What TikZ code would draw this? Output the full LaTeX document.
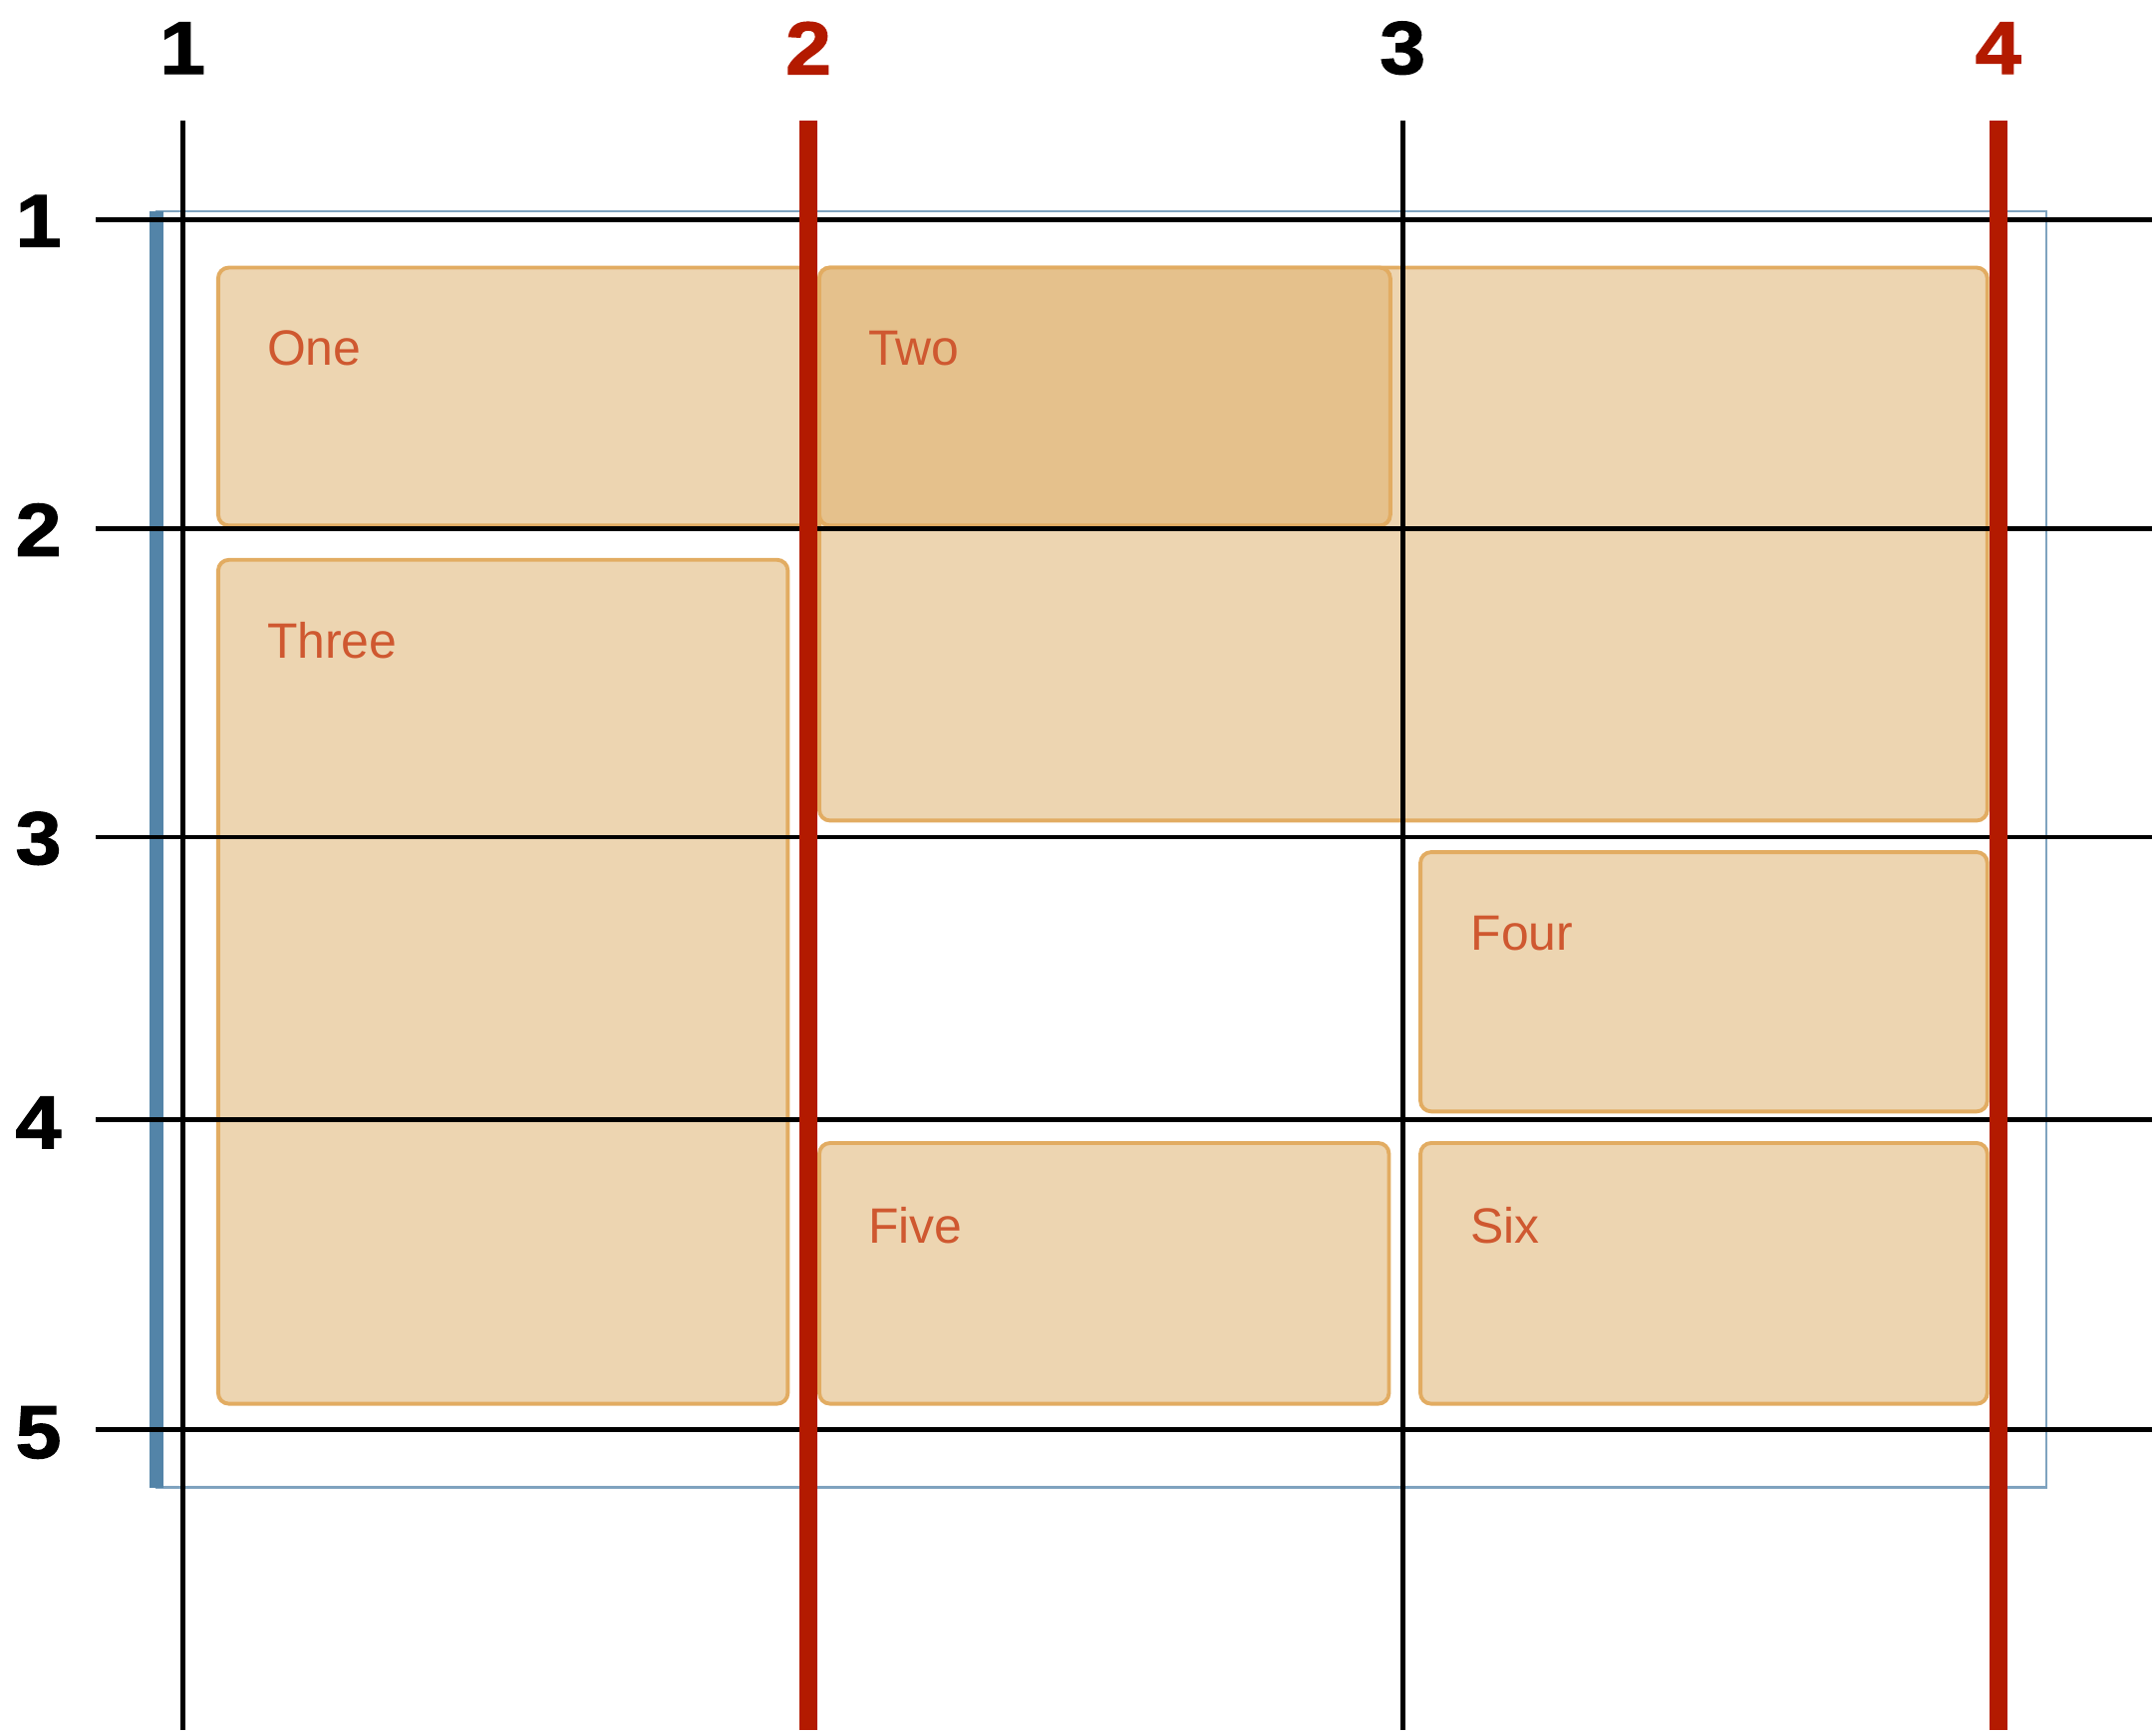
\documentclass[tikz,border=0pt]{standalone}
\usepackage{fontspec}
\setmainfont{Liberation Sans}
\newfontfamily\numfont[FakeStretch=1.1,FakeBold=1.6]{Liberation Sans Bold}
\definecolor{gridred}{HTML}{B31A00}
\definecolor{itemfill}{HTML}{EDD5B1}
\definecolor{itemedge}{HTML}{E2AC62}
\definecolor{twofill}{HTML}{E5C18C}
\definecolor{itemtext}{HTML}{CF5830}
\definecolor{boxblue}{HTML}{5384A8}
\definecolor{boxline}{HTML}{7FA3BF}
\begin{document}
\begin{tikzpicture}[x=0.01cm, y=-0.01cm,
        item/.style={fill=itemfill, draw=itemedge, line width=0.8pt, rounded corners=2.2pt},
        itemlabel/.style={anchor=west, inner sep=0pt, text=itemtext, font=\fontsize{10.3}{12}\selectfont},
        gridline/.style={color=black, line width=1pt},
        redline/.style={color=gridred, line width=3.6pt},
        linenum/.style={font=\fontsize{15.5}{18}\numfont}]
        \useasboundingbox (0,0) rectangle (1568,1265);
        % container
        \draw[color = boxline, line width=0.5pt] (114,154) rectangle (1491,1084);
        \draw[color = boxblue, line width=2.8pt] (114,154) -- (114,1084);
        % items
        \draw[item] (159,195) rectangle (592,383);
        \draw[item] (597,195) rectangle (1448,598);
        \draw[item, fill=twofill] (597,195) rectangle (1013,383);
        \draw[item] (159,408) rectangle (574,1023);
        \draw[item] (1035,621) rectangle (1448,810);
        \draw[item] (597,833) rectangle (1012,1023);
        \draw[item] (1035,833) rectangle (1448,1023);
        \node[itemlabel] (one) at (194,254) {One};
        \node[itemlabel] (two) at (632,254) {Two};
        \node[itemlabel] (three) at (194,467) {Three};
        \node[itemlabel] (four) at (1071,680) {Four};
        \node[itemlabel] (five) at (632,893) {Five};
        \node[itemlabel] (six) at (1071,893) {Six};
        % row lines
        \draw[gridline] (70,160) -- (1568,160);
        \draw[gridline] (70,385) -- (1568,385);
        \draw[gridline] (70,610) -- (1568,610);
        \draw[gridline] (70,816) -- (1568,816);
        \draw[gridline] (70,1042) -- (1568,1042);
        % column lines
        \draw[gridline] (133,88) -- (133,1261);
        \draw[redline] (589,88) -- (589,1261);
        \draw[gridline] (1022,88) -- (1022,1261);
        \draw[redline] (1456,88) -- (1456,1261);
        \node[linenum] (col1) at (133,35) {1};
        \node[linenum, text=gridred] (col2) at (589,35) {2};
        \node[linenum] (col3) at (1022,35) {3};
        \node[linenum, text=gridred] (col4) at (1456,35) {4};
        \node[linenum] (row1) at (28,161) {1};
        \node[linenum] (row2) at (28,386) {2};
        \node[linenum] (row3) at (28,611) {3};
        \node[linenum] (row4) at (28,818) {4};
        \node[linenum] (row5) at (28,1044) {5};
\end{tikzpicture}
\end{document}
